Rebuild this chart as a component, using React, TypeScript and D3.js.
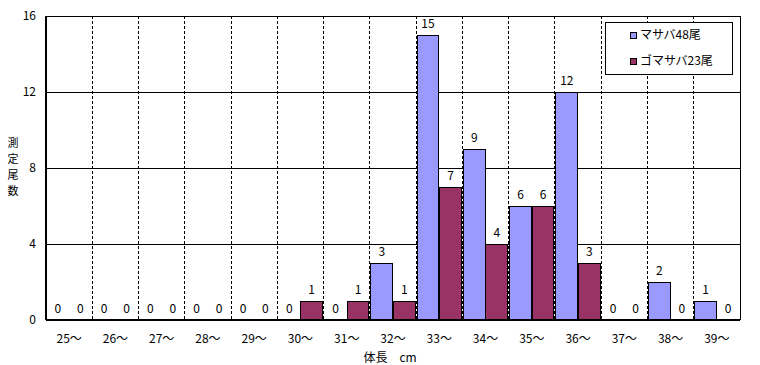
import React from "react";
import * as d3 from "d3";

const categories = ["25～","26～","27～","28～","29～","30～","31～","32～","33～","34～","35～","36～","37～","38～","39～"];
const masaba = [0,0,0,0,0,0,0,3,15,9,6,12,0,2,1];
const gomasaba = [0,0,0,0,0,1,1,1,7,4,6,3,0,0,0];
const seriesNames = ["マサバ48尾","ゴマサバ23尾"];
const seriesColors = ["#9999FF","#993366"];
const yTicks = [0,4,8,12,16];

const W = 760, H = 365;
const left = 46, right = 740, top = 16, bottom = 320;
const font = "'MS PGothic','Noto Sans CJK JP',sans-serif";

export default function App() {
  const x = d3.scaleBand<string>().domain(categories).range([left, right]).paddingInner(0).paddingOuter(0);
  const inner = d3.scaleBand<string>().domain(["0","1"]).range([0, x.bandwidth()]).paddingOuter(0.045).paddingInner(0.03);
  const y = d3.scaleLinear().domain([0, 16]).range([bottom, top]);
  const series = [masaba, gomasaba];
  return (
    <svg width={W} height={H} style={{ position: "absolute", left: 0, top: 0, fontFamily: font }}>
      <rect x={0} y={0} width={W} height={H} fill="#fff" />
      {categories.slice(1).map((c) => (
        <line key={c} x1={x(c)!} x2={x(c)!} y1={top} y2={bottom} stroke="#000" strokeWidth={1} strokeDasharray="3,2" shapeRendering="crispEdges" />
      ))}
      {yTicks.slice(1).map((t) => (
        <line key={t} x1={left} x2={right} y1={y(t)} y2={y(t)} stroke="#000" strokeWidth={1} shapeRendering="crispEdges" />
      ))}
      <line x1={right} x2={right} y1={top} y2={bottom} stroke="#000" strokeWidth={1} shapeRendering="crispEdges" />
      {series.map((vals, si) =>
        vals.map((v, i) => {
          const bx = x(categories[i])! + inner(String(si))!;
          const bw = inner.bandwidth();
          return (
            <g key={si + "-" + i}>
              {v > 0 && (
                <rect x={bx} y={y(v)} width={bw} height={bottom - y(v)} fill={seriesColors[si]} stroke="#000" strokeWidth={1} shapeRendering="crispEdges" />
              )}
              <text x={bx + bw / 2} y={y(v) - 7} fontSize={12} textAnchor="middle" fill="#000">{v}</text>
            </g>
          );
        })
      )}
      <line x1={left} x2={left} y1={top} y2={bottom} stroke="#000" strokeWidth={1.5} shapeRendering="crispEdges" />
      <line x1={left} x2={right} y1={bottom} y2={bottom} stroke="#000" strokeWidth={1.5} shapeRendering="crispEdges" />
      {yTicks.map((t) => (
        <text key={t} x={36} y={y(t) + 4} fontSize={12} textAnchor="end" fill="#000">{t}</text>
      ))}
      {categories.map((c) => (
        <text key={c} x={x(c)! + x.bandwidth() / 2} y={343} fontSize={12} textAnchor="middle" fill="#000">{c}</text>
      ))}
      <text x={390} y={362} fontSize={12} textAnchor="middle" fill="#000" style={{ whiteSpace: "pre" }}>{"体長　cm"}</text>
      {["測","定","尾","数"].map((ch, i) => (
        <text key={ch} x={13} y={147 + i * 16} fontSize={11} textAnchor="middle" fill="#000">{ch}</text>
      ))}
      <rect x={605} y={22} width={127} height={52} fill="#fff" stroke="#000" strokeWidth={1} shapeRendering="crispEdges" />
      {seriesNames.map((n, i) => (
        <g key={n}>
          <rect x={630} y={32 + i * 26} width={6} height={6} fill={seriesColors[i]} stroke="#000" strokeWidth={1} shapeRendering="crispEdges" />
          <text x={640} y={39 + i * 26} fontSize={12} fill="#000">{n}</text>
        </g>
      ))}
    </svg>
  );
}
